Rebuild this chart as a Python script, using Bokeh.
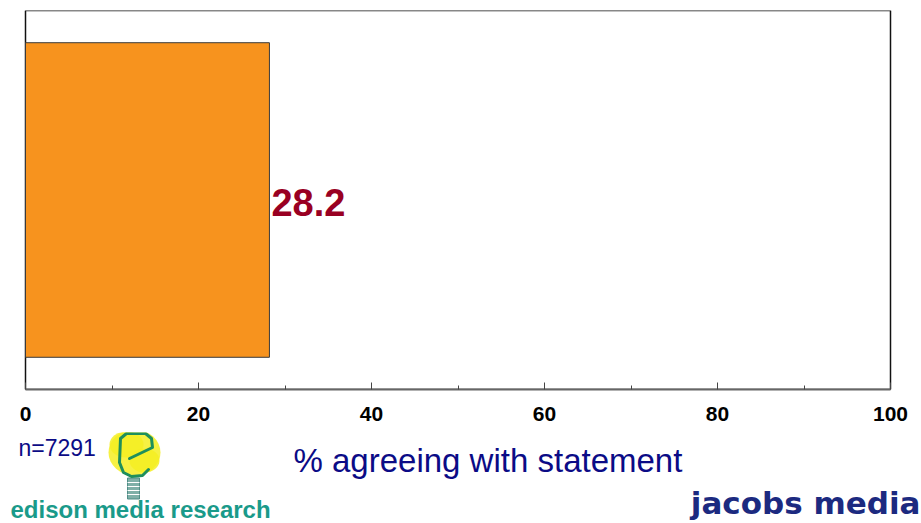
from bokeh.plotting import figure
from bokeh.layouts import column
from bokeh.models import Range1d, FactorRange, FixedTicker, ColumnDataSource, BoxAnnotation
from bokeh.core.properties import value
from bokeh.embed import file_html
from bokeh.resources import INLINE

# ---- data ----
categories = ["statement"]
values = [28.2]
value_labels = ["28.2"]
x_ticks = [0, 20, 40, 60, 80, 100]
x_minor_ticks = [10, 30, 50, 70, 90]
x_axis_title = "% agreeing with statement"
sample_note = "n=7291"
brand_left = "edison media research"
brand_right = "jacobs media"

FONT = "Liberation Sans"
NAVY = "#0b0b86"
W = 921
TOP_H = 432
BOT_H = 523 - TOP_H

# plot-box geometry (pixels): value axis runs from 25px to 890px
BOX_L, BOX_R = 25, 890
x_lo, x_hi = x_ticks[0], x_ticks[-1]
ppu = (BOX_R - BOX_L) / (x_hi - x_lo)

# ---- main chart ----
p = figure(width=W, height=TOP_H, output_backend="svg", toolbar_location=None,
           x_range=Range1d(x_lo - BOX_L / ppu, x_lo + (W - BOX_L) / ppu),
           y_range=FactorRange(factors=categories),
           y_axis_location=None, min_border_left=0, min_border_right=0,
           min_border_top=10, min_border_bottom=TOP_H - 389)
p.background_fill_color = "white"
p.border_fill_color = "white"
p.outline_line_color = None
p.xgrid.grid_line_color = None
p.ygrid.grid_line_color = None

# chart box spanning the value axis domain
p.add_layout(BoxAnnotation(left=x_lo, right=x_hi, fill_color=None, fill_alpha=0,
                           line_color="#111111", line_alpha=1, line_width=1.5,
                           level="underlay"))

src = ColumnDataSource(dict(y=categories, v=values, lab=value_labels))
p.hbar(y="y", left=0, right="v", height=0.83, source=src,
       fill_color="#F7931E", line_color="#3a3a3a", line_width=1)
p.text(x="v", y="y", text="lab", source=src, x_offset=2, y_offset=2,
       text_font=value(FONT), text_font_style="bold", text_font_size="38px",
       text_color="#990022", text_align="left", text_baseline="middle")

ax = p.xaxis[0]
ax.bounds = (x_lo, x_hi)
ax.ticker = FixedTicker(ticks=x_ticks, minor_ticks=x_minor_ticks)
ax.axis_line_color = "#666666"
ax.axis_line_width = 2
ax.major_tick_in = 7
ax.major_tick_out = 0
ax.minor_tick_in = 4
ax.minor_tick_out = 0
ax.major_tick_line_color = "#444444"
ax.minor_tick_line_color = "#444444"
ax.major_label_text_font = FONT
ax.major_label_text_font_style = "bold"
ax.major_label_text_font_size = "21px"
ax.major_label_text_color = "black"
ax.major_label_standoff = 17

# ---- footer strip (pixel coordinates, top-down) ----
f = figure(width=W, height=BOT_H, output_backend="svg", toolbar_location=None,
           x_range=Range1d(0, W), y_range=Range1d(523, TOP_H),
           x_axis_location=None, y_axis_location=None,
           min_border_left=0, min_border_right=0, min_border_top=0, min_border_bottom=0)
f.outline_line_color = None
f.background_fill_color = "white"
f.border_fill_color = "white"
f.xgrid.grid_line_color = None
f.ygrid.grid_line_color = None

# lightbulb logo (drawn shapes)
f.ellipse(x=[134, 126, 144], y=[452, 444, 460], width=[52, 34, 30], height=[46, 26, 24],
          fill_color="#f4ee22", fill_alpha=0.85, line_color=None)
f.rect(x=[133], y=[488], width=12, height=21, fill_color="#7fb0a8",
       line_color="#4f8d86", line_width=1)
f.segment(x0=[127, 127, 127, 127], y0=[482, 486, 490, 494],
          x1=[139, 139, 139, 139], y1=[482, 486, 490, 494],
          line_color="white", line_width=1)
logo_e_x = [129, 152, 151, 145, 126, 120, 119, 123, 131, 142, 148]
logo_e_y = [458, 447, 438, 433, 433, 438, 462, 472, 476, 475, 469]
f.line(x=logo_e_x, y=logo_e_y, line_color="#1f8f5c", line_width=3,
       line_join="round", line_cap="round")

f.text(x=[18], y=[447], text=[sample_note], text_font=value(FONT), text_font_size="23px",
       text_color=NAVY, text_align="left", text_baseline="middle")
f.text(x=[293], y=[460], text=[x_axis_title], text_font=value(FONT), text_font_size="33px",
       text_color=NAVY, text_align="left", text_baseline="middle")
f.text(x=[10], y=[509], text=[brand_left], text_font=value(FONT), text_font_style="bold",
       text_font_size="24px", text_color="#1a9a8a", text_align="left",
       text_baseline="middle")
f.text(x=[920], y=[502], text=[brand_right], text_font=value("DejaVu Sans"),
       text_font_style="bold", text_font_size="31px", text_color="#1c2a80",
       text_align="right", text_baseline="middle")

layout = column(p, f, spacing=0)
open("out.html", "w").write(file_html(layout, INLINE))
